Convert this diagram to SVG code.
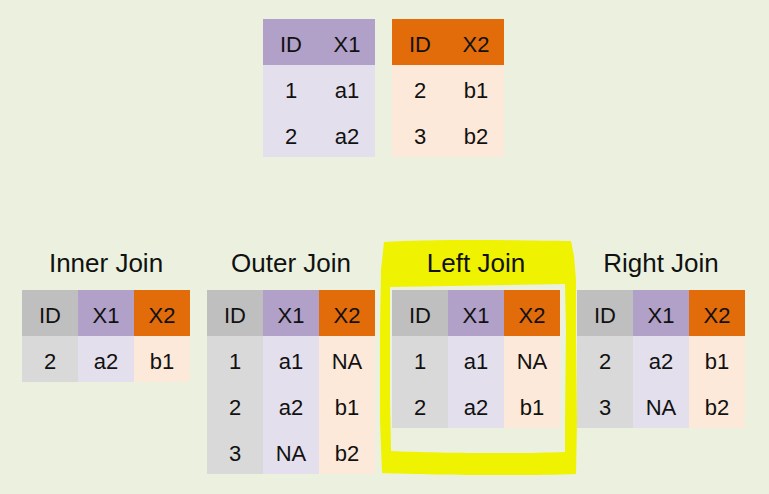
<svg xmlns="http://www.w3.org/2000/svg" width="769" height="494" viewBox="0 0 769 494">
<style>
text{font-family:"Liberation Sans",Arial,sans-serif;fill:#111;text-anchor:middle}
.c{font-size:22px}
.t{font-size:26px}
.hg{fill:#BFBFBF}.bg{fill:#D9D9D9}
.hp{fill:#B1A0C7}.bp{fill:#E4DFEC}
.ho{fill:#E26B0A}.bo{fill:#FDE9D9}
</style>
<rect width="769" height="494" fill="#EBF1DE"/>
<path id="highlight" fill="#EFF200" fill-rule="evenodd" d="M384,242 C430,239 520,240 571,241 L574,256 L576,280 L576,340 L577,420 L576,474 C520,476 430,475 382,473 L380,420 L380,330 L381,270 Z M390,287 L565,284 L566,330 L565,420 L565,452 C520,454 430,453 391,451 L390,400 Z"/>
<g id="table-x1">
<rect class="hp" x="263" y="19" width="112" height="46"/>
<rect class="bp" x="263" y="65" width="112" height="92"/>
<text class="c" x="291" y="52">ID</text><text class="c" x="347" y="52">X1</text>
<text class="c" x="291" y="98">1</text><text class="c" x="347" y="98">a1</text>
<text class="c" x="291" y="144">2</text><text class="c" x="347" y="144">a2</text>
</g>
<g id="table-x2">
<rect class="ho" x="392" y="19" width="112" height="46"/>
<rect class="bo" x="392" y="65" width="112" height="92"/>
<text class="c" x="420" y="52">ID</text><text class="c" x="476" y="52">X2</text>
<text class="c" x="420" y="98">2</text><text class="c" x="476" y="98">b1</text>
<text class="c" x="420" y="144">3</text><text class="c" x="476" y="144">b2</text>
</g>
<g id="inner-join">
<text class="t" x="106" y="272">Inner Join</text>
<rect class="hg" x="22" y="290" width="56" height="46"/><rect class="hp" x="78" y="290" width="56" height="46"/><rect class="ho" x="134" y="290" width="56" height="46"/>
<rect class="bg" x="22" y="336" width="56" height="46"/><rect class="bp" x="78" y="336" width="56" height="46"/><rect class="bo" x="134" y="336" width="56" height="46"/>
<text class="c" x="50" y="323">ID</text><text class="c" x="106" y="323">X1</text><text class="c" x="162" y="323">X2</text>
<text class="c" x="50" y="369">2</text><text class="c" x="106" y="369">a2</text><text class="c" x="162" y="369">b1</text>
</g>
<g id="outer-join">
<text class="t" x="291" y="272">Outer Join</text>
<rect class="hg" x="207" y="290" width="56" height="46"/><rect class="hp" x="263" y="290" width="56" height="46"/><rect class="ho" x="319" y="290" width="56" height="46"/>
<rect class="bg" x="207" y="336" width="56" height="138"/><rect class="bp" x="263" y="336" width="56" height="138"/><rect class="bo" x="319" y="336" width="56" height="138"/>
<text class="c" x="235" y="323">ID</text><text class="c" x="291" y="323">X1</text><text class="c" x="347" y="323">X2</text>
<text class="c" x="235" y="369">1</text><text class="c" x="291" y="369">a1</text><text class="c" x="347" y="369">NA</text>
<text class="c" x="235" y="415">2</text><text class="c" x="291" y="415">a2</text><text class="c" x="347" y="415">b1</text>
<text class="c" x="235" y="461">3</text><text class="c" x="291" y="461">NA</text><text class="c" x="347" y="461">b2</text>
</g>
<g id="left-join">
<text class="t" x="476" y="272">Left Join</text>
<rect class="hg" x="392" y="290" width="56" height="46"/><rect class="hp" x="448" y="290" width="56" height="46"/><rect class="ho" x="504" y="290" width="56" height="46"/>
<rect class="bg" x="392" y="336" width="56" height="92"/><rect class="bp" x="448" y="336" width="56" height="92"/><rect class="bo" x="504" y="336" width="56" height="92"/>
<text class="c" x="420" y="323">ID</text><text class="c" x="476" y="323">X1</text><text class="c" x="532" y="323">X2</text>
<text class="c" x="420" y="369">1</text><text class="c" x="476" y="369">a1</text><text class="c" x="532" y="369">NA</text>
<text class="c" x="420" y="415">2</text><text class="c" x="476" y="415">a2</text><text class="c" x="532" y="415">b1</text>
</g>
<g id="right-join">
<text class="t" x="661" y="272">Right Join</text>
<rect class="hg" x="577" y="290" width="56" height="46"/><rect class="hp" x="633" y="290" width="56" height="46"/><rect class="ho" x="689" y="290" width="56" height="46"/>
<rect class="bg" x="577" y="336" width="56" height="92"/><rect class="bp" x="633" y="336" width="56" height="92"/><rect class="bo" x="689" y="336" width="56" height="92"/>
<text class="c" x="605" y="323">ID</text><text class="c" x="661" y="323">X1</text><text class="c" x="717" y="323">X2</text>
<text class="c" x="605" y="369">2</text><text class="c" x="661" y="369">a2</text><text class="c" x="717" y="369">b1</text>
<text class="c" x="605" y="415">3</text><text class="c" x="661" y="415">NA</text><text class="c" x="717" y="415">b2</text>
</g>
</svg>
